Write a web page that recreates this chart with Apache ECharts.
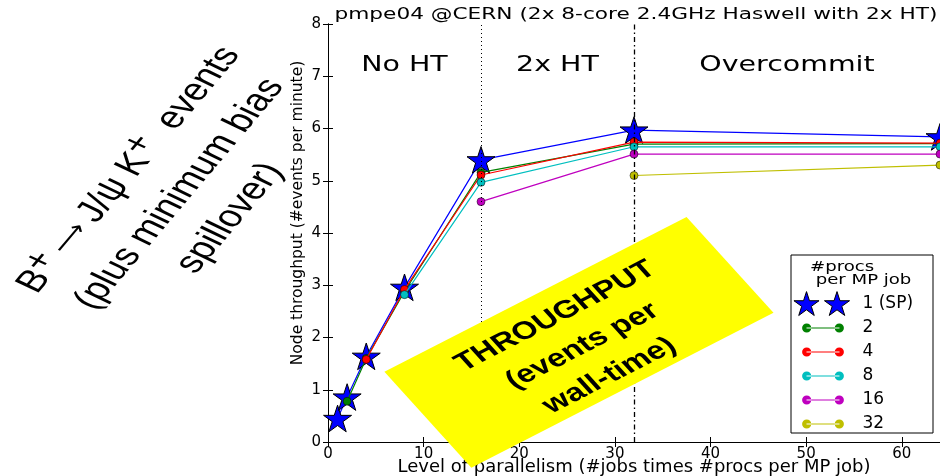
<!DOCTYPE html>
<html>
<head>
<meta charset="utf-8">
<script src="https://cdn.jsdelivr.net/npm/echarts@6/dist/echarts.min.js"></script>
<style>
html, body { margin: 0; padding: 0; background: #fff; }
#chart { width: 940px; height: 476px; }
</style>
</head>
<body>
<div id="chart"></div>
<script>
// throughput vs. level of parallelism, pmpe04 @CERN
var parallelism = [1, 2, 4, 8, 16, 32, 64];
var seriesNames = ['1 (SP)', '2', '4', '8', '16', '32'];
var tpSP = [0.45, 0.86, 1.64, 2.96, 5.40, 5.97, 5.84];
var tp2  = [null, 0.78, 1.60, 2.88, 5.16, 5.70, 5.71];
var tp4  = [null, null, 1.58, 2.92, 5.11, 5.74, 5.72];
var tp8  = [null, null, null, 2.82, 4.97, 5.65, 5.65];
var tp16 = [null, null, null, null, 4.60, 5.51, 5.51];
var tp32 = [null, null, null, null, null, 5.10, 5.30];
var xTicks = [0, 10, 20, 30, 40, 50, 60];
var yTicks = [0, 1, 2, 3, 4, 5, 6, 7, 8];
var regionBounds = [16, 32];
var regionLabels = ['No HT', '2x HT', 'Overcommit'];

(function() {
  var colors = ['#0000ff', '#008000', '#ff0000', '#00bfbf', '#bf00bf', '#bfbf00'];
  var values = [tpSP, tp2, tp4, tp8, tp16, tp32];
  var STRETCH = 1.33; // the source picture is stretched horizontally
  var FONT = 'DejaVu Sans';

  function starPath(cx, cy, R) {
    var r = R * 0.382, d = '';
    for (var i = 0; i < 10; i++) {
      var a = -Math.PI / 2 + i * Math.PI / 5;
      var rr = i % 2 ? r : R;
      d += (i ? ' L' : 'M') + (cx + rr * Math.cos(a)).toFixed(2) + ' ' + (cy + rr * Math.sin(a)).toFixed(2);
    }
    return d + ' Z';
  }
  function circle(cx, cy, r) {
    return 'M' + (cx - r) + ' ' + cy + ' A' + r + ' ' + r + ' 0 1 0 ' + (cx + r) + ' ' + cy +
      ' A' + r + ' ' + r + ' 0 1 0 ' + (cx - r) + ' ' + cy + ' Z';
  }
  // legend icons on a 65x24 canvas (corner moveTo keeps the box)
  var box = 'M0 0 M65 24 ';
  var starIcon = 'path://' + box + starPath(14, 13.3, 13.2) + ' ' + starPath(44.5, 13.3, 13.2);
  var dotIcon = 'path://' + box + 'M14 11.4 L47 11.4 L47 12.6 L14 12.6 Z ' + circle(14.2, 12, 4.6) + ' ' + circle(46.8, 12, 4.6);

  var series = values.map(function(vals, k) {
    var data = [];
    parallelism.forEach(function(x, i) { if (vals[i] != null) data.push([x, vals[i]]); });
    var s = {
      name: seriesNames[k],
      type: 'line',
      data: data,
      symbol: k === 0 ? 'path://' + starPath(0, 0, 10) : 'circle',
      symbolSize: k === 0 ? 28 : 8,
      symbolKeepAspect: true,
      lineStyle: { color: colors[k], width: 1.2 },
      itemStyle: { color: colors[k], borderColor: '#000', borderWidth: k === 0 ? 1 : 0.5 },
      z: 2 + k * 0.01
    };
    if (k === 0) {
      s.markLine = {
        silent: true,
        symbol: 'none',
        label: { show: false },
        data: [
          { xAxis: regionBounds[0], lineStyle: { color: '#000', width: 1, type: [1, 3] } },
          { xAxis: regionBounds[1], lineStyle: { color: '#000', width: 1.3, type: [5, 3, 1.5, 3] } }
        ]
      };
    }
    return s;
  });

  var xMin = xTicks[0], xStep = xTicks[1] - xTicks[0];
  var xMax = parallelism[parallelism.length - 1];
  var yMin = yTicks[0], yStep = yTicks[1] - yTicks[0], yMax = yTicks[yTicks.length - 1];
  var labelStyle = { color: '#000', fontFamily: FONT, fontSize: 15 };
  var tick = { show: true, inside: true, length: 5, lineStyle: { color: '#000' } };
  var line = { show: true, lineStyle: { color: '#000', width: 1 } };

  var chart = echarts.init(document.getElementById('chart'), null, { renderer: 'canvas' });
  chart.setOption({
    animation: false,
    backgroundColor: '#fff',
    grid: { left: 328, right: 0, top: 24, bottom: 34, containLabel: false, outerBoundsMode: 'none' },
    xAxis: [{
      type: 'value', min: xMin, max: xMax, interval: xStep,
      axisLine: line, axisTick: tick, splitLine: { show: false },
      axisLabel: Object.assign({ margin: 5, showMaxLabel: false }, labelStyle),
      name: 'Level of parallelism (#jobs times #procs per MP job)',
      nameLocation: 'middle', nameGap: 16, nameMoveOverlap: false,
      nameTextStyle: { color: '#000', fontFamily: FONT, fontSize: 18 }
    }, {
      type: 'value', position: 'top', min: xMin, max: xMax, interval: xStep,
      axisLine: line, axisTick: tick, axisLabel: { show: false }, splitLine: { show: false }
    }],
    yAxis: [{
      type: 'value', min: yMin, max: yMax, interval: yStep,
      axisLine: line, axisTick: tick, splitLine: { show: false },
      axisLabel: Object.assign({ margin: 7 }, labelStyle),
      name: 'Node throughput (#events per minute)',
      nameLocation: 'middle', nameGap: 22, nameRotate: 90, nameMoveOverlap: false,
      nameTextStyle: { color: '#000', fontFamily: FONT, fontSize: 15.5, padding: [0, 0, 0, 40] }
    }, {
      type: 'value', position: 'right', min: yMin, max: yMax, interval: yStep,
      axisLine: line, axisTick: tick, axisLabel: { show: false }, splitLine: { show: false }
    }],
    legend: {
      orient: 'vertical', left: 792, top: 291, padding: 0,
      itemWidth: 65, itemHeight: 24, itemGap: 0,
      textStyle: { color: '#000', fontFamily: FONT, fontSize: 17 },
      data: seriesNames.map(function(n, k) {
        return k === 0 ? { name: n, icon: starIcon, itemStyle: { borderWidth: 1, borderColor: '#000' } }
                       : { name: n, icon: dotIcon, itemStyle: { borderWidth: 0 } };
      })
    },
    series: series
  });

  // region labels sit in the middle of each region
  var edges = [xMin].concat(regionBounds, [xMax]);
  var regionText = regionLabels.map(function(t, i) {
    var p = chart.convertToPixel({ xAxisIndex: 0, yAxisIndex: 0 }, [(edges[i] + edges[i + 1]) / 2, 7.2]);
    return {
      type: 'text', x: p[0], y: p[1], scaleX: STRETCH, silent: true,
      style: { text: t, fill: '#000', fontFamily: FONT, fontSize: 21.4, align: 'center', verticalAlign: 'middle' }
    };
  });

  chart.setOption({
    graphic: regionText.concat([
      {
        type: 'text', x: 636, y: 15, scaleX: STRETCH, silent: true,
        style: { text: 'pmpe04 @CERN (2x 8-core 2.4GHz Haswell with 2x HT)', fill: '#000',
                 fontFamily: FONT, fontSize: 16.3, align: 'center', verticalAlign: 'middle' }
      },
      {
        type: 'rect', x: 791, y: 255, z: 3, silent: true,
        shape: { width: 142, height: 178 },
        style: { fill: '#fff', stroke: '#000', lineWidth: 1 }
      },
      {
        type: 'text', x: 810, y: 274, z: 5, scaleX: STRETCH, silent: true,
        style: { text: '#procs\n per MP job', fill: '#000', fontFamily: FONT, fontSize: 13.6,
                 lineHeight: 13.5, align: 'left', verticalAlign: 'middle' }
      },
      {
        // process label, left side
        type: 'group', scaleX: STRETCH, silent: true,
        children: [{
          type: 'text', x: 135, y: 194, rotation: 57.5 * Math.PI / 180,
          style: {
            text: '{n|B}{s|+}{a| \u27f6 }{n|J/\u03c8 K}{s|+}{n|  events}\n(plus minimum bias\nspillover)',
            fill: '#000', fontFamily: 'Liberation Sans', fontSize: 31, lineHeight: 45,
            align: 'center', verticalAlign: 'middle',
            rich: {
              n: { fontFamily: 'Liberation Sans', fontSize: 31, lineHeight: 45, fill: '#000' },
              a: { fontFamily: 'DejaVu Sans', fontSize: 22, lineHeight: 45, fill: '#000' },
              s: { fontFamily: 'Liberation Sans', fontSize: 30, lineHeight: 24, verticalAlign: 'top', fill: '#000' }
            }
          }
        }]
      },
      {
        // yellow call-out
        type: 'group', scaleX: STRETCH, z: 10, silent: true,
        children: [{
          type: 'rect', x: 435.3, y: 342.3, rotation: 34.3 * Math.PI / 180, z: 10,
          shape: { x: -137.5, y: -58, width: 275, height: 116 },
          style: { fill: '#ffff00' }
        }, {
          type: 'text', x: 438, y: 346, rotation: 34.3 * Math.PI / 180, z: 11,
          style: { text: 'THROUGHPUT\n(events per\nwall-time)', fill: '#000',
                   fontFamily: 'Liberation Sans', fontWeight: 'bold', fontSize: 25, lineHeight: 36,
                   align: 'center', verticalAlign: 'middle' }
        }]
      }
    ])
  });

  window.addEventListener('resize', function() { chart.resize(); });
})();
</script>
</body>
</html>
